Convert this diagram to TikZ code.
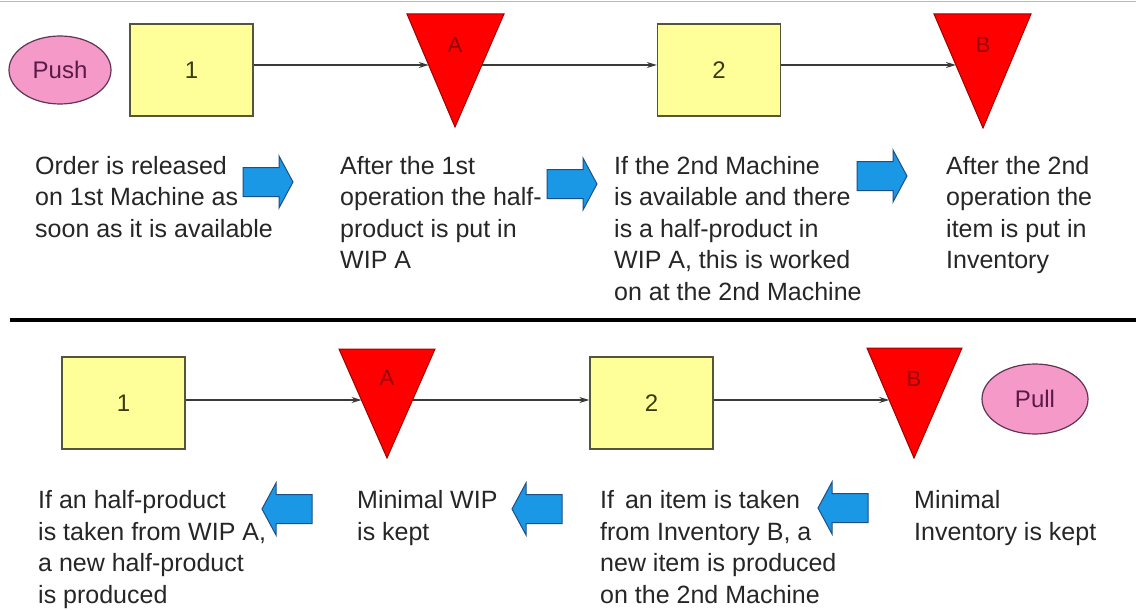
\documentclass[tikz,border=0pt]{standalone}
\usepackage{fontspec}
\setmainfont{Liberation Sans}
\usetikzlibrary{arrows.meta,shapes.geometric}
\definecolor{boxfill}{HTML}{FFFF99}
\definecolor{boxdraw}{HTML}{55553A}
\definecolor{boxtext}{HTML}{3A3A10}
\definecolor{trifill}{HTML}{FF0000}
\definecolor{tridraw}{HTML}{A00000}
\definecolor{trilabel}{HTML}{960000}
\definecolor{pinkfill}{HTML}{F59AC8}
\definecolor{pinkdraw}{HTML}{603452}
\definecolor{pinktext}{HTML}{5A1A48}
\definecolor{bluefill}{HTML}{1A98E6}
\definecolor{bluedraw}{HTML}{1D4F86}
\definecolor{txt}{HTML}{262626}
\definecolor{linec}{HTML}{3A3A3A}
\tikzset{
  machine/.style={rectangle, draw=boxdraw, fill=boxfill, line width=1.4pt,
    minimum width=123pt, minimum height=92pt, inner sep=0pt,
    text=boxtext, font=\fontsize{24}{28}\selectfont},
  tri/.style={fill=trifill, draw=tridraw, line width=1pt, line join=miter},
  trilab/.style={text=trilabel, font=\fontsize{22}{24}\selectfont, inner sep=0pt},
  oval/.style={ellipse, draw=pinkdraw, fill=pinkfill, line width=1.2pt,
    inner sep=0pt, text=pinktext, font=\fontsize{24}{28}\selectfont},
  conn/.style={draw=linec, line width=1.2pt, -{Stealth[length=10pt,width=6pt]}},
  desc/.style={anchor=base west, align=left, inner sep=0pt, text=txt,
    font=\fontsize{25}{31.5}\selectfont},
  barrow/.style={fill=bluefill, draw=bluedraw, line width=1pt, line join=miter},
  rarrow/.pic={\path[barrow] (0,-14.5) -- (36,-14.5) -- (36,-26) -- (50,0)
      -- (36,26) -- (36,14.5) -- (0,14.5) -- cycle;},
  larrow/.pic={\path[barrow] (0,-14.5) -- (-36,-14.5) -- (-36,-26) -- (-50,0)
      -- (-36,26) -- (-36,14.5) -- (0,14.5) -- cycle;}
}
\begin{document}
\begin{tikzpicture}[x=1pt,y=-1pt]
\useasboundingbox (0,0) rectangle (1136,610);
\fill[white] (0,0) rectangle (1136,610);
% frame lines
\draw[gray!55, line width=1.5pt] (0,1.5) -- (1136,1.5);
\draw[black, line width=3.5pt] (10,320) -- (1136,320);

% ---------- PUSH row ----------
\node[oval, minimum width=102pt, minimum height=68pt] (push) at (60,70) {Push};
\node[machine] (m1) at (191.5,70) {1};
\node[machine] (m2) at (719,70) {2};
\path[tri] (407,14) -- (504,14) -- (455,127) -- cycle;
\node[trilab] (wipA) at (455,45) {A};
\path[tri] (934,14) -- (1031,14) -- (983,128) -- cycle;
\node[trilab] (invB) at (983,45) {B};
\coordinate (Aw) at (428.7,65);
\coordinate (Ae) at (481.9,65);
\coordinate (Bw) at (955.9,65);
\draw[conn] ([yshift=5pt]m1.east) -- (Aw);
\draw[conn] (Ae) -- ([yshift=5pt]m2.west);
\draw[conn] ([yshift=5pt]m2.east) -- (Bw);

% base anchor = baseline of the last line (first line at 174, 31.5 per line)
\node[desc] (t1) at (35,237) {Order is released\\on 1st Machine as\\soon as it is available};
\node[desc] (t2) at (340,268.5) {After the 1st\\operation the half-\\product is put in\\WIP A};
\node[desc] (t3) at (614,300) {If the 2nd Machine\\is available and there\\is a half-product in\\WIP A, this is worked\\on at the 2nd Machine};
\node[desc] (t4) at (946,268.5) {After the 2nd\\operation the\\item is put in\\Inventory};
\pic at (243,182) {rarrow};
\pic at (547,184) {rarrow};
\pic at (857,176) {rarrow};

% ---------- PULL row ----------
\node[machine] (m3) at (123.5,403) {1};
\node[machine] (m4) at (651.5,403) {2};
\path[tri] (339,349) -- (435,349) -- (387,458) -- cycle;
\node[trilab] (wipA2) at (387,378) {A};
\path[tri] (867,348) -- (962,348) -- (914,458) -- cycle;
\node[trilab] (invB2) at (914,379) {B};
\node[oval, minimum width=106pt, minimum height=70pt] (pull) at (1035,399) {Pull};
\coordinate (A2w) at (361.5,400);
\coordinate (A2e) at (412.5,400);
\coordinate (B2w) at (889.2,400);
\draw[conn] ([yshift=3pt]m3.east) -- (A2w);
\draw[conn] (A2e) -- ([yshift=3pt]m4.west);
\draw[conn] ([yshift=3pt]m4.east) -- (B2w);

\node[desc] (t5) at (38,603) {If an half-product\\is taken from WIP A,\\a new half-product\\is produced};
\node[desc] (t6) at (357,540) {Minimal WIP\\is kept};
\node[desc] (t7) at (600,603) {If\hspace{4pt} an item is taken\\from Inventory B, a\\new item is produced\\on the 2nd Machine};
\node[desc] (t8) at (914,540) {Minimal\\Inventory is kept};
\pic at (312,509) {larrow};
\pic at (562,509) {larrow};
\pic at (868,508) {larrow};
\end{tikzpicture}
\end{document}
